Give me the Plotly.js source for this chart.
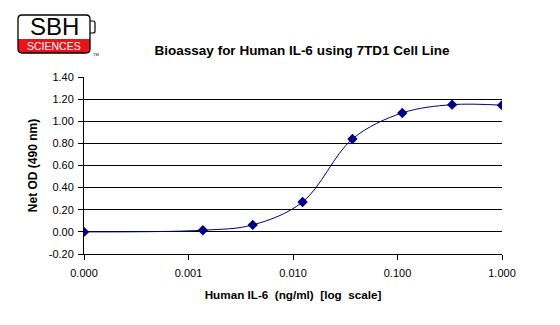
<!DOCTYPE html>
<html>
<head>
<meta charset="utf-8">
<script src="https://cdn.plot.ly/plotly-3.0.1.min.js"></script>
<style>html,body{margin:0;padding:0;background:#fff;}#chart{width:560px;height:325px;}</style>
</head>
<body>
<div id="chart"></div>
<script>
// Concentration of Human IL-6 (ng/ml); 0 is plotted at 0.0001 on the log axis
const concentrations = [0.0001, 0.001372, 0.004115, 0.01235, 0.03704, 0.1111, 0.3333, 1.0];
const netOD = [0.00, 0.015, 0.063, 0.27, 0.84, 1.075, 1.15, 1.145];
const xTickVals = [0.0001, 0.001, 0.01, 0.1, 1];
const xTickText = ['0.000', '0.001', '0.010', '0.100', '1.000'];
const yTickVals = [-0.2, 0, 0.2, 0.4, 0.6, 0.8, 1.0, 1.2, 1.4];
const yTickText = ['-0.20', '0.00', '0.20', '0.40', '0.60', '0.80', '1.00', '1.20', '1.40'];

const FONT = 'Arial, "Liberation Sans", sans-serif';
const NARROW = '"Liberation Sans Narrow", "Arial Narrow", Arial, sans-serif';

// logo geometry helpers: pixel -> paper coordinates (plot area 84..502 x 77..254)
const PL = 84, PW = 418, PB = 254, PH = 177;
const px = v => ((v - PL) / PW).toFixed(5);
const py = v => ((PB - v) / PH).toFixed(5);
function roundRect(x0, y0, x1, y1, r, roundTop) {
  const rt = roundTop ? r : 0;
  return 'M' + px(x0 + rt) + ',' + py(y0) +
    ' L' + px(x1 - rt) + ',' + py(y0) +
    (rt ? ' Q' + px(x1) + ',' + py(y0) + ' ' + px(x1) + ',' + py(y0 + rt) : '') +
    ' L' + px(x1) + ',' + py(y1 - r) +
    ' Q' + px(x1) + ',' + py(y1) + ' ' + px(x1 - r) + ',' + py(y1) +
    ' L' + px(x0 + r) + ',' + py(y1) +
    ' Q' + px(x0) + ',' + py(y1) + ' ' + px(x0) + ',' + py(y1 - r) +
    ' L' + px(x0) + ',' + py(y0 + rt) +
    (rt ? ' Q' + px(x0) + ',' + py(y0) + ' ' + px(x0 + rt) + ',' + py(y0) : '') + ' Z';
}
const tabPath = 'M' + px(90) + ',' + py(21) + ' L' + px(93) + ',' + py(21) +
  ' Q' + px(95) + ',' + py(21) + ' ' + px(95) + ',' + py(23) +
  ' L' + px(95) + ',' + py(31) + ' Q' + px(95) + ',' + py(33) + ' ' + px(93) + ',' + py(33) +
  ' L' + px(90) + ',' + py(33);

const trace = {
  x: concentrations,
  y: netOD,
  type: 'scatter',
  mode: 'lines+markers',
  line: {shape: 'spline', smoothing: 1, color: '#000080', width: 1},
  marker: {symbol: 'diamond', size: 8, color: '#000080'},
  hoverinfo: 'x+y'
};

const layout = {
  width: 560, height: 325,
  margin: {l: 84, r: 58, t: 77, b: 71},
  paper_bgcolor: '#ffffff', plot_bgcolor: '#ffffff',
  showlegend: false,
  font: {family: FONT, size: 11, color: '#000'},
  title: {
    text: '<b>Bioassay for Human IL-6 using 7TD1 Cell Line</b>',
    font: {family: FONT, size: 13.5, color: '#000'},
    xref: 'container', yref: 'container',
    x: 302/560, xanchor: 'center',
    y: 1 - 50/325, yanchor: 'middle'
  },
  xaxis: {
    type: 'log',
    range: [-4, 0],
    tickvals: xTickVals,
    ticktext: xTickText,
    showgrid: false,
    zeroline: false,
    showline: true, linecolor: '#000', linewidth: 1,
    ticks: 'outside', ticklen: 5, tickcolor: '#000',
    ticklabelstandoff: 4,
    tickfont: {family: FONT, size: 11, color: '#000'},
    title: {text: '<b>Human IL-6  (ng/ml)  [log  scale]</b>', font: {family: FONT, size: 11.7, color: '#000'}, standoff: 12}
  },
  yaxis: {
    range: [-0.2, 1.4],
    tickvals: yTickVals,
    ticktext: yTickText,
    showgrid: true, gridcolor: '#000', gridwidth: 1,
    zeroline: false,
    showline: true, linecolor: '#000', linewidth: 1,
    ticks: 'outside', ticklen: 5, tickcolor: '#000',
    ticklabelstandoff: 2,
    tickfont: {family: FONT, size: 11, color: '#000'},
    title: {text: '<b>Net OD (490 nm)</b>', font: {family: FONT, size: 12, color: '#000'}, standoff: 8}
  },
  shapes: [
    {type: 'path', xref: 'paper', yref: 'paper', layer: 'above', path: tabPath,
     line: {color: '#000', width: 1.2}},
    {type: 'path', xref: 'paper', yref: 'paper', layer: 'above',
     path: roundRect(18, 39, 90, 53, 4, false),
     line: {color: '#e8141b', width: 0}, fillcolor: '#e8141b'},
    {type: 'path', xref: 'paper', yref: 'paper', layer: 'above',
     path: roundRect(18, 15, 90, 53, 4, true),
     line: {color: '#000', width: 1.3}, fillcolor: 'rgba(0,0,0,0)'}
  ],
  annotations: [
    {text: 'SBH', xref: 'paper', yref: 'paper', x: px(54), y: py(27),
     xanchor: 'center', yanchor: 'middle', showarrow: false,
     font: {family: NARROW, size: 24, color: '#000'}},
    {text: 'SCIENCES', xref: 'paper', yref: 'paper', x: px(54), y: py(46.5),
     xanchor: 'center', yanchor: 'middle', showarrow: false,
     font: {family: NARROW, size: 10.5, color: '#fff'}},
    {text: 'TM', xref: 'paper', yref: 'paper', x: px(91), y: py(54),
     xanchor: 'left', yanchor: 'middle', showarrow: false,
     font: {family: FONT, size: 4, color: '#000'}}
  ]
};

Plotly.newPlot('chart', [trace], layout, {displayModeBar: false, staticPlot: true});
</script>
</body>
</html>
